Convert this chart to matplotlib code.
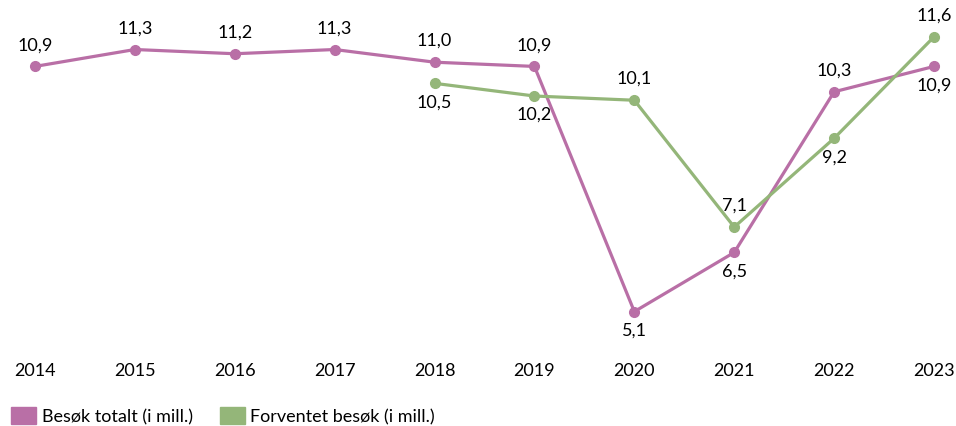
import matplotlib.pyplot as plt
from matplotlib.patches import Patch

# Data
years = [2014, 2015, 2016, 2017, 2018, 2019, 2020, 2021, 2022, 2023]
total = [10.9, 11.3, 11.2, 11.3, 11.0, 10.9, 5.1, 6.5, 10.3, 10.9]
exp_years = [2018, 2019, 2020, 2021, 2022, 2023]
expected = [10.5, 10.2, 10.1, 7.1, 9.2, 11.6]

# label above (1) or below (-1) the point
total_pos = [1, 1, 1, 1, 1, 1, -1, -1, 1, -1]
exp_pos = [-1, -1, 1, 1, -1, 1]

pink = '#B96FA6'
green = '#94B679'

plt.rcParams['font.family'] = ['Lato', 'DejaVu Sans']

fig = plt.figure(figsize=(9.56, 4.27), dpi=100)
ax = fig.add_axes([0, 0.159, 1, 0.792])

ax.plot(years, total, color=pink, lw=2.3, marker='o', ms=7, zorder=3)
ax.plot(exp_years, expected, color=green, lw=2.3, marker='o', ms=7, zorder=3)

for x, v, p in zip(years, total, total_pos):
    ax.annotate(f'{v:.1f}'.replace('.', ','), (x, v), xytext=(0, 16 if p > 0 else -13),
                textcoords='offset points', ha='center', va='center', fontsize=13)
for x, v, p in zip(exp_years, expected, exp_pos):
    ax.annotate(f'{v:.1f}'.replace('.', ','), (x, v), xytext=(0, 16 if p > 0 else -13),
                textcoords='offset points', ha='center', va='center', fontsize=13)

ax.set_xlim(2014 - 0.35, 2023 + 0.22)
ax.set_ylim(4, 12)
ax.set_xticks(years)
ax.set_xticklabels([str(y) for y in years], fontsize=13)
ax.tick_params(axis='x', length=0, pad=3)
ax.set_yticks([])
for s in ax.spines.values():
    s.set_visible(False)

handles = [Patch(color=pink, label='Besøk totalt (i mill.)'),
           Patch(color=green, label='Forventet besøk (i mill.)')]
fig.legend(handles=handles, loc='lower left', bbox_to_anchor=(0.0, -0.022), ncol=2,
           frameon=False, fontsize=13, handlelength=1.4, handleheight=1.1,
           handletextpad=0.3, columnspacing=1.5, borderaxespad=0.2)

fig.savefig('out.png', dpi=100)
